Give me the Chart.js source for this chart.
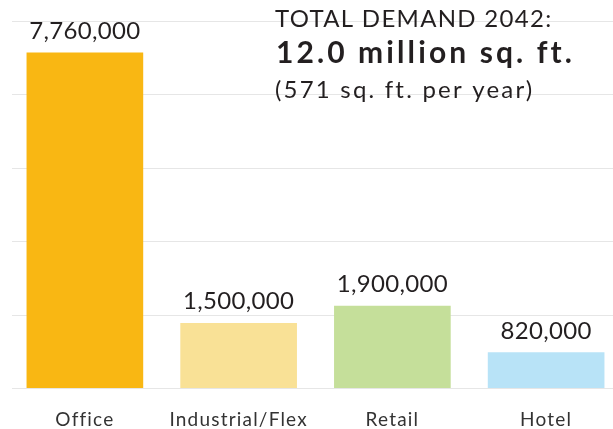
<!DOCTYPE html>
<html><head><meta charset="utf-8">
<script src="https://cdn.jsdelivr.net/npm/chart.js@4"></script>
<style>html,body{margin:0;padding:0;overflow:hidden;background:#fff;width:613px;height:429px}canvas{display:block}</style>
</head><body>
<canvas id="c" width="625" height="429"></canvas>
<script>
const categories = ['Office', 'Industrial/Flex', 'Retail', 'Hotel'];
const demandSqFt = [7760000, 1500000, 1900000, 820000];
const barColors = ['#F9B713', '#F9E196', '#C5DF9A', '#B8E3F7'];
const yTicks = [0, 1700000, 3400000, 5100000, 6800000, 8500000];
const titleLines = ['TOTAL DEMAND 2042:', '12.0 million sq. ft.', '(571 sq. ft. per year)'];

const FONT = 'Lato, "Noto Sans", sans-serif';

const gridPlugin = {
  id: 'grid',
  beforeDatasetsDraw(chart) {
    const ctx = chart.ctx, y = chart.scales.y;
    ctx.save();
    ctx.strokeStyle = '#e6e6e6';
    ctx.lineWidth = 1.2;
    y.ticks.forEach(t => {
      const py = Math.round(y.getPixelForValue(t.value)) + 0.5;
      ctx.beginPath(); ctx.moveTo(12, py); ctx.lineTo(chart.width, py); ctx.stroke();
    });
    ctx.restore();
  },
  beforeDraw(chart) { chart.ctx.letterSpacing = '1.2px'; }
};

const labelPlugin = {
  id: 'labels',
  afterDatasetsDraw(chart) {
    const ctx = chart.ctx;
    ctx.save();
    ctx.letterSpacing = '0.3px';
    ctx.fillStyle = '#231f20';
    ctx.font = '24px ' + FONT;
    ctx.textAlign = 'center';
    ctx.textBaseline = 'alphabetic';
    chart.getDatasetMeta(0).data.forEach((bar, i) => {
      ctx.fillText(demandSqFt[i].toLocaleString('en-US'), bar.x, bar.y - 14);
    });
    ctx.restore();
  },
  afterDraw(chart) {
    const ctx = chart.ctx;
    ctx.save();
    ctx.fillStyle = '#231f20';
    ctx.textAlign = 'left';
    ctx.textBaseline = 'alphabetic';
    ctx.letterSpacing = '1.3px';
    ctx.font = '24px ' + FONT;
    ctx.fillText(titleLines[0], 275, 27);
    ctx.letterSpacing = '3.1px';
    ctx.font = 'bold 30px ' + FONT;
    ctx.fillText(titleLines[1], 276, 63);
    ctx.letterSpacing = '2.2px';
    ctx.font = '24px ' + FONT;
    ctx.fillText(titleLines[2], 275, 98);
    ctx.restore();
  }
};

new Chart(document.getElementById('c'), {
  type: 'bar',
  data: {
    labels: categories,
    datasets: [{
      data: demandSqFt,
      backgroundColor: barColors,
      borderWidth: 0,
      barThickness: 116
    }]
  },
  options: {
    responsive: false,
    animation: false,
    devicePixelRatio: 1,
    layout: { padding: { left: 8, right: 2, top: 21, bottom: 0 } },
    plugins: { legend: { display: false }, tooltip: { enabled: false } },
    scales: {
      x: {
        grid: { display: false },
        border: { display: false },
        ticks: { color: '#333', font: { family: FONT, size: 19 }, padding: 12, maxRotation: 0 },
        afterFit(s) { s.height = 41; }
      },
      y: {
        display: false,
        min: 0,
        max: 8500000,
        afterBuildTicks(s) { s.ticks = yTicks.map(v => ({ value: v })); }
      }
    }
  },
  plugins: [gridPlugin, labelPlugin]
});
</script>
</body></html>
